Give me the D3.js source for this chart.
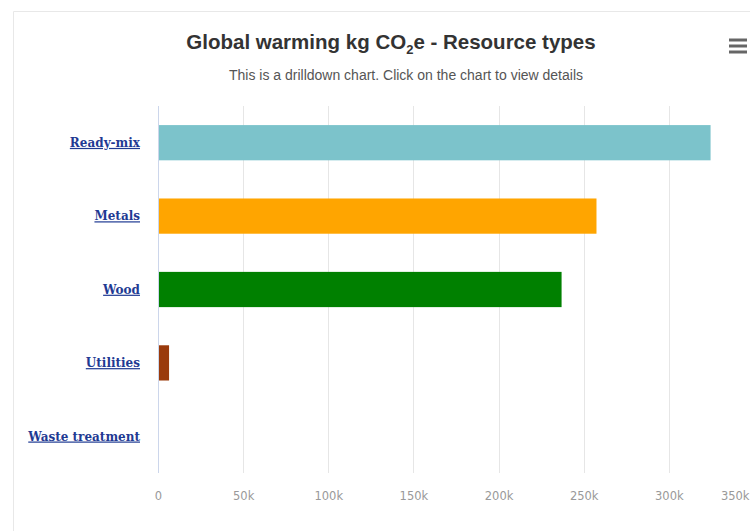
<!DOCTYPE html>
<html>
<head>
<meta charset="utf-8">
<script src="https://cdn.jsdelivr.net/npm/d3@7"></script>
<style>
	body { margin: 0; background: #fff; }
	svg { display: block; }
	.grid-line { stroke: #e6e6e6; stroke-width: 1; }
</style>
</head>
<body>
<div id="chart"></div>
<script>
const categories = ['Ready-mix', 'Metals', 'Wood', 'Utilities', 'Waste treatment'];
const values = [324500, 257500, 237000, 6500, 300];
const barColors = ['#7cc3cb', '#ffa500', '#008000', '#9a3a0b', '#7cb5ec'];
const tickValues = [0, 50000, 100000, 150000, 200000, 250000, 300000, 350000];

let svgWidth = 750;
let svgHeight = 531;
let padding = { 'left': 158, 'right': -4, 'top': 106, 'bottom': 58 };

let svg = d3.select('#chart').append('svg')
	.attr('width', svgWidth)
	.attr('height', svgHeight);

// outer frame
svg.append('path')
	.attr('d', `M13.5,${svgHeight} L13.5,11.5 L${svgWidth},11.5`)
	.attr('fill', 'none')
	.attr('stroke', '#e8e8e8');

svg.append('text')
	.attr('x', 391)
	.attr('y', 49)
	.attr('text-anchor', 'middle')
	.attr('font-family', 'Liberation Sans, Arial, sans-serif')
	.attr('font-size', '20.5px')
	.attr('font-weight', 'bold')
	.attr('fill', '#333')
	.call(t => {
		t.append('tspan').text('Global warming kg CO');
		t.append('tspan').attr('font-size', '13px').attr('dy', 5).text('2');
		t.append('tspan').attr('dy', -5).text('e - Resource types');
	});

svg.append('text')
	.attr('x', 406)
	.attr('y', 80)
	.attr('text-anchor', 'middle')
	.attr('font-family', 'Liberation Sans, Arial, sans-serif')
	.attr('font-size', '14px')
	.attr('fill', '#555')
	.text('This is a drilldown chart. Click on the chart to view details');

// menu icon
let menu = svg.append('g').attr('stroke', '#666').attr('stroke-width', 3);
[40, 46, 52].forEach(yy => {
	menu.append('line').attr('x1', 729).attr('x2', 747).attr('y1', yy).attr('y2', yy);
});

let x = d3.scaleLinear()
	.domain([0, 350000])
	.range([padding.left, svgWidth - padding.right]);

let y = d3.scaleBand()
	.domain(categories)
	.range([padding.top, svgHeight - padding.bottom])
	.paddingInner(0.52)
	.paddingOuter(0.26);

let axis_x = d3.axisBottom()
	.scale(x)
	.tickValues(tickValues)
	.tickSize(0)
	.tickPadding(19)
	.tickFormat(d => d === 0 ? '0' : (d / 1000) + 'k');

let axes = svg.append('g').classed('axes', true);

axes.selectAll('line.grid-line')
	.data(tickValues)
	.enter()
	.append('line')
	.classed('grid-line', true)
	.attr('x1', d => Math.round(x(d)) + 0.5)
	.attr('x2', d => Math.round(x(d)) + 0.5)
	.attr('y1', padding.top)
	.attr('y2', svgHeight - padding.bottom);

axes.append('g')
	.classed('x-axis', true)
	.attr('transform', `translate(0, ${svgHeight - padding.bottom})`)
	.call(axis_x)
	.call(g => g.select('.domain').remove())
	.selectAll('text')
	.attr('fill', '#999')
	.attr('font-family', 'DejaVu Sans, sans-serif')
	.attr('font-size', '11.5px')
	// last label sits at the right edge, keep it inside
	.filter(d => d === 350000)
	.attr('text-anchor', 'end')
	.attr('dx', svgWidth - 1 - x(350000));

axes.append('line')
	.attr('x1', padding.left + 0.5)
	.attr('x2', padding.left + 0.5)
	.attr('y1', padding.top)
	.attr('y2', svgHeight - padding.bottom)
	.attr('stroke', '#ccd6eb');

let axis_y = d3.axisLeft()
	.scale(y)
	.tickSize(0)
	.tickPadding(18);

axes.append('g')
	.classed('y-axis', true)
	.attr('transform', `translate(${padding.left}, 0)`)
	.call(axis_y)
	.call(g => g.select('.domain').remove())
	.selectAll('text')
	.attr('fill', '#1f3a93')
	.attr('font-family', 'DejaVu Serif, serif')
	.attr('font-size', '12px')
	.attr('font-weight', 'bold')
	.attr('text-decoration', 'underline')
	.attr('dy', '0.35em');

let body = svg.append('g').classed('body', true);

body.selectAll('rect.bar')
	.data(categories)
	.enter()
	.append('rect')
	.classed('bar', true)
	.attr('x', x(0) + 1)
	.attr('y', d => y(d))
	.attr('width', (d, i) => Math.max(0, x(values[i]) - x(0) - 1))
	.attr('height', y.bandwidth())
	.attr('fill', (d, i) => barColors[i]);
</script>
</body>
</html>
